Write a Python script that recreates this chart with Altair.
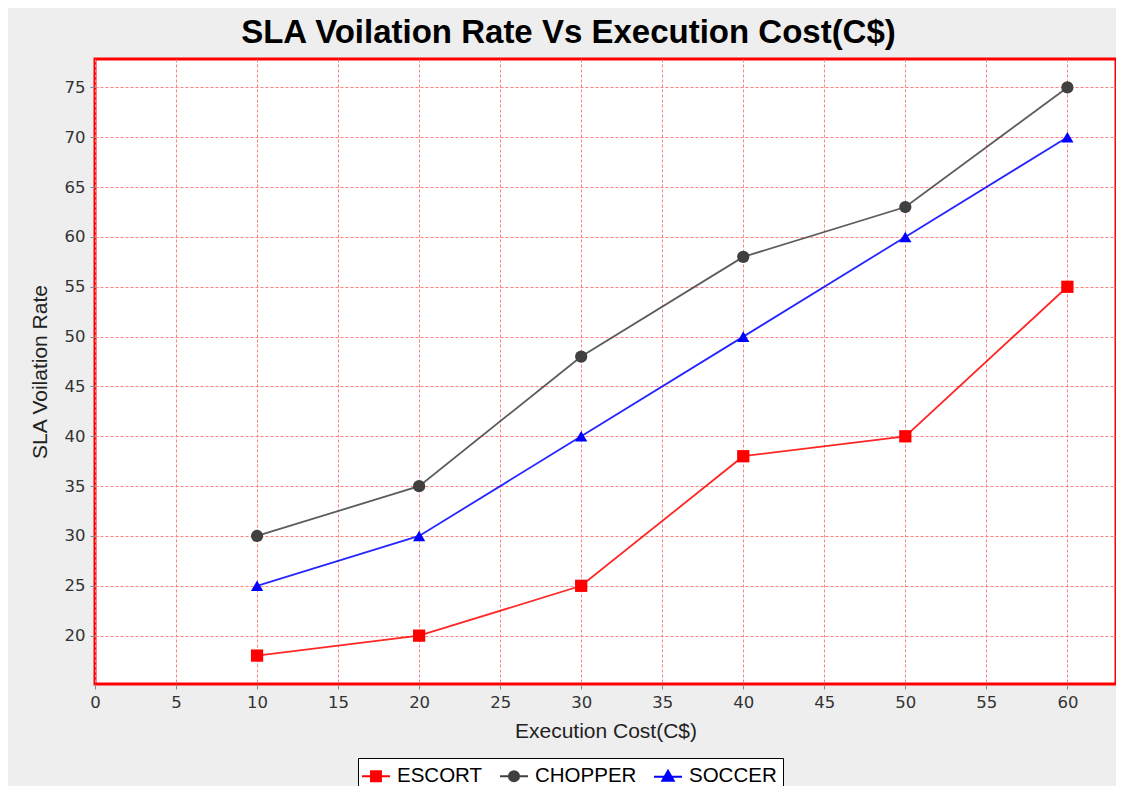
import altair as alt
import pandas as pd

# ---- data ----
cost = [10, 20, 30, 40, 50, 60]
escort = [18, 20, 25, 38, 40, 55]
chopper = [30, 35, 48, 58, 63, 75]
soccer = [25, 30, 40, 50, 60, 70]

series_names = ["ESCORT", "CHOPPER", "SOCCER"]
series_colors = ["#FF0000", "#404040", "#0000FF"]
marker_shapes = ["square", "circle", "triangle-up"]
legend_paths = [
    "M-1.27,0H1.27M-0.45,-0.45H0.45V0.45H-0.45Z",
    "M-1.27,0H1.27M0.46,0A0.46,0.46,0,1,1,-0.46,0A0.46,0.46,0,1,1,0.46,0Z",
    "M-1.27,0.05H1.27M0,-0.5L0.52,0.42H-0.52Z",
]
x_ticks = list(range(0, 61, 5))
y_ticks = list(range(20, 76, 5))

rows = []
for name, vals, shp in zip(series_names, [escort, chopper, soccer], marker_shapes):
    for c, v in zip(cost, vals):
        rows.append({"cost": c, "rate": v, "series": name, "marker": shp})
df = pd.DataFrame(rows)

LABEL_FONT = "DejaVu Sans"
TEXT_FONT = "Liberation Sans"

x_enc = alt.X(
    "cost:Q",
    scale=alt.Scale(domain=[0, 63], nice=False, zero=False),
    axis=alt.Axis(values=x_ticks, title="Execution Cost(C$)", labelPadding=5, titlePadding=10, labelFlush=False),
)
y_enc = alt.Y(
    "rate:Q",
    scale=alt.Scale(domain=[15.15, 77.85], nice=False, zero=False),
    axis=alt.Axis(values=y_ticks, title="SLA Voilation Rate", labelPadding=5, titlePadding=14, labelFlush=False),
)
color_scale = alt.Scale(domain=series_names, range=series_colors)

legend = alt.Legend(
    title=None,
    orient="none",
    legendX=263,
    legendY=699,
    direction="horizontal",
    strokeColor="black",
    fillColor="white",
    padding=6,
    cornerRadius=0,
    labelFont=TEXT_FONT,
    labelFontSize=20.5,
    labelColor="black",
    labelOffset=9,
    columnPadding=13,
    symbolSize=484,
    symbolStrokeWidth=2,
    symbolOpacity=1,
)

base = alt.Chart(df)

lines = base.mark_line(strokeWidth=1.8, opacity=0.85).encode(
    x=x_enc,
    y=y_enc,
    color=alt.Color("series:N", scale=color_scale, legend=None),
)

points = base.mark_point(filled=True, size=150, opacity=1).encode(
    x=x_enc,
    y=y_enc,
    color=alt.Color("series:N", scale=color_scale, legend=None),
    shape=alt.Shape("marker:N", scale=None),
)

legend_layer = base.transform_filter("false").mark_point(filled=True, opacity=1).encode(
    x=x_enc,
    y=y_enc,
    color=alt.Color("series:N", scale=color_scale, legend=legend),
    stroke=alt.Stroke("series:N", scale=color_scale, legend=legend),
    shape=alt.Shape("series:N", scale=alt.Scale(domain=series_names, range=legend_paths), legend=legend),
)

chart = (
    alt.layer(lines, points, legend_layer)
    .resolve_legend(color="independent", stroke="independent", shape="independent")
    .properties(
        width=1021,
        height=625,
        autosize=alt.AutoSizeParams(type="none"),
        padding={"left": 87, "top": 51, "right": 0, "bottom": 102},
        background="#EEEEEE",
        title=alt.TitleParams(
            "SLA Voilation Rate Vs Execution Cost(C$)",
            font=TEXT_FONT,
            fontSize=33,
            fontWeight="bold",
            color="black",
            anchor="middle",
            frame="group",
            dx=-37,
            offset=9,
        ),
    )
    .configure_view(fill="white", stroke="#FF0000", strokeWidth=3)
    .configure_axis(
        domain=False,
        grid=True,
        gridColor="#FF8080",
        gridDash=[3, 2],
        gridWidth=1,
        gridOpacity=1,
        tickColor="#888888",
        tickSize=5,
        labelFont=LABEL_FONT,
        labelFontSize=16.5,
        labelColor="#333333",
        titleFont=TEXT_FONT,
        titleFontSize=21,
        titleFontWeight="normal",
        titleColor="#222222",
    )
)

chart.save("out.html", embed_options={"renderer": "svg", "actions": False})
